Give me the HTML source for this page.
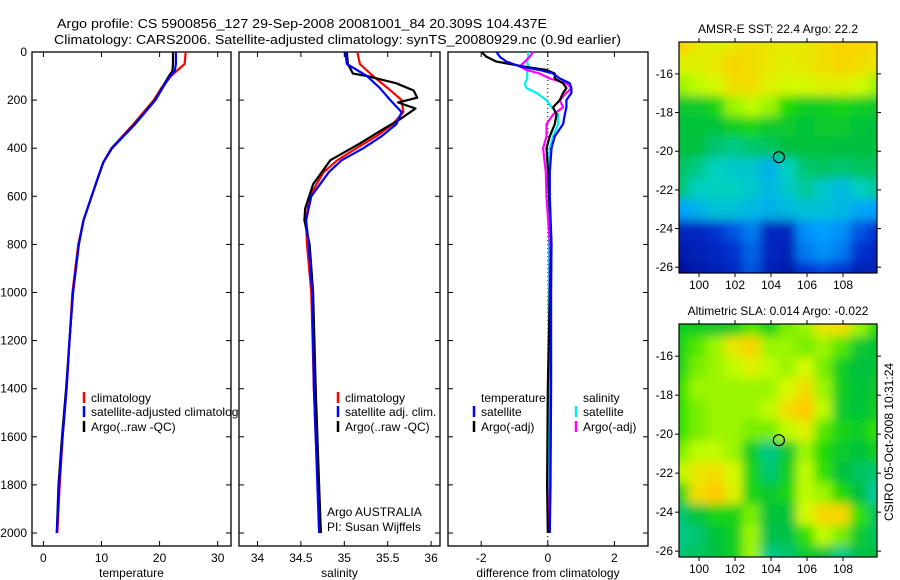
<!DOCTYPE html>
<html><head><meta charset="utf-8"><style>
body{margin:0;background:#fff}
svg{display:block;font-family:"Liberation Sans",sans-serif}
</style></head><body>
<svg id="chart" width="900" height="580" viewBox="0 0 900 580" xmlns="http://www.w3.org/2000/svg">
<defs>
<clipPath id="c1"><rect x="32" y="52" width="207" height="494"/></clipPath>
<clipPath id="cm1"><rect x="679" y="42" width="198" height="231"/></clipPath>
<clipPath id="cm2"><rect x="679" y="324" width="198" height="233"/></clipPath>
<filter id="bl" x="-10%" y="-10%" width="120%" height="120%"><feGaussianBlur stdDeviation="5"/></filter>
</defs>
<text x="57" y="28" font-size="13" textLength="490" lengthAdjust="spacingAndGlyphs">Argo profile: CS 5900856_127 29-Sep-2008 20081001_84 20.309S 104.437E</text>
<text x="54" y="44" font-size="13" textLength="567" lengthAdjust="spacingAndGlyphs">Climatology: CARS2006. Satellite-adjusted climatology: synTS_20080929.nc (0.9d earlier)</text>
<g id="g"></g>
</svg>
<script>
// ---------- data ----------
const tDepth=[0,50,80,100,150,200,300,400,460,500,600,700,800,1000,1200,1400,1600,1800,2000];
const tClim=[24.5,24.3,22.9,22.0,20.3,19.0,15.5,11.7,10.3,9.7,8.3,6.9,6.0,5.0,4.5,4.0,3.3,2.8,2.4];
const tSat=[22.8,22.8,22.6,21.8,20.5,19.3,15.8,11.8,10.3,9.7,8.3,6.9,6.1,5.1,4.5,4.0,3.3,2.7,2.3];
const tArgo=[22.3,22.3,22.2,21.6,20.4,19.2,15.7,11.8,10.3,9.7,8.3,6.9,6.1,5.1,4.5,3.9,3.2,2.6,2.3];
const sDepth=[0,50,100,150,200,250,300,350,400,450,500,600,700,800,1000,1400,1600,1800,2000];
const sClim=[35.15,35.18,35.33,35.5,35.66,35.68,35.56,35.37,35.14,34.92,34.76,34.6,34.56,34.57,34.62,34.65,34.67,34.7,34.72];
const sSat=[35.01,35.03,35.26,35.41,35.53,35.66,35.6,35.43,35.22,34.97,34.82,34.62,34.56,34.59,34.63,34.65,34.67,34.69,34.71];
const aDepth=[0,50,90,100,130,160,190,210,235,280,320,380,450,550,650,700,800,1000,1400,1600,1800,2000];
const sArgo=[35.03,35.04,35.1,35.26,35.6,35.8,35.84,35.62,35.82,35.64,35.45,35.18,34.84,34.64,34.55,34.54,34.6,34.64,34.67,34.69,34.71,34.73];
const dDepth=[0,20,40,60,75,90,110,130,150,170,200,230,260,300,350,400,500,600,800,1000,1400,1800,2000];
const dTSat=[-1.54,-1.44,-1.24,-0.84,-0.24,0.16,0.36,0.66,0.71,0.71,0.56,0.56,0.51,0.46,0.21,0.11,0.06,0.06,0.11,0.1,0.1,0.08,0.06];
const dTArgo=[-1.99,-1.84,-1.54,-0.74,-0.04,0.21,0.21,0.46,0.56,0.46,0.36,0.16,0.26,0.21,0.06,-0.04,0.01,0.04,0.11,0.06,0.0,-0.02,0.0];
const dSSat=[-0.59,-0.59,-0.62,-0.59,-0.62,-0.62,-0.62,-0.69,-0.64,-0.34,-0.04,0.11,0.31,0.31,0.16,0.06,0.01,0.04,0.04,0.03,0.03,0.03,0.03];
const dSArgo=[-0.44,-0.54,-0.69,-0.84,-0.64,-0.24,0.06,0.56,0.71,0.56,0.36,0.46,0.16,-0.04,-0.04,-0.14,-0.06,-0.04,0.06,0.06,0.08,0.06,0.04];
const depthTicks=[0,200,400,600,800,1000,1200,1400,1600,1800,2000];
const tTicks=[0,10,20,30];
const sTicks=[34,34.5,35,35.5,36];
const dTicks=[-2,0,2];
const lonTicks=[100,102,104,106,108];
const latTicks=[16,18,20,22,24,26];
const sstGrid=[
[0.85,0.8,0.78,0.8,0.82,0.8,0.8,0.8,0.82,0.84,0.84,0.82],
[0.78,0.78,0.8,0.84,0.82,0.8,0.78,0.8,0.82,0.84,0.82,0.8],
[0.72,0.74,0.76,0.82,0.82,0.78,0.76,0.76,0.78,0.78,0.76,0.72],
[0.58,0.58,0.62,0.72,0.74,0.72,0.64,0.6,0.6,0.62,0.6,0.58],
[0.56,0.56,0.56,0.6,0.62,0.58,0.58,0.56,0.58,0.58,0.56,0.55],
[0.55,0.55,0.5,0.48,0.5,0.52,0.55,0.56,0.56,0.55,0.55,0.55],
[0.52,0.48,0.42,0.4,0.4,0.34,0.42,0.5,0.52,0.5,0.52,0.52],
[0.5,0.42,0.42,0.42,0.4,0.36,0.4,0.46,0.4,0.36,0.42,0.46],
[0.3,0.34,0.38,0.38,0.36,0.34,0.36,0.38,0.38,0.36,0.32,0.3],
[0.12,0.12,0.15,0.2,0.25,0.12,0.12,0.28,0.3,0.28,0.2,0.15],
[0.08,0.1,0.12,0.15,0.22,0.12,0.1,0.25,0.28,0.25,0.15,0.12],
[0.05,0.08,0.1,0.12,0.2,0.1,0.08,0.15,0.18,0.15,0.1,0.1]];
const slaGrid=[
[0.6,0.6,0.58,0.6,0.68,0.62,0.7,0.72,0.8,0.82,0.72,0.65],
[0.62,0.68,0.72,0.8,0.84,0.72,0.72,0.7,0.72,0.68,0.58,0.56],
[0.62,0.7,0.72,0.74,0.78,0.74,0.72,0.76,0.7,0.6,0.55,0.56],
[0.66,0.72,0.72,0.72,0.72,0.72,0.76,0.82,0.72,0.6,0.56,0.58],
[0.66,0.7,0.72,0.72,0.72,0.74,0.82,0.86,0.74,0.58,0.56,0.6],
[0.66,0.7,0.72,0.72,0.7,0.7,0.74,0.78,0.68,0.62,0.6,0.66],
[0.7,0.74,0.74,0.72,0.6,0.48,0.58,0.72,0.64,0.58,0.56,0.6],
[0.74,0.8,0.82,0.76,0.62,0.5,0.6,0.74,0.66,0.56,0.52,0.5],
[0.62,0.82,0.86,0.78,0.62,0.58,0.62,0.74,0.72,0.64,0.55,0.45],
[0.5,0.56,0.62,0.62,0.7,0.56,0.56,0.76,0.84,0.84,0.66,0.52],
[0.48,0.5,0.56,0.6,0.72,0.54,0.54,0.66,0.74,0.7,0.58,0.52],
[0.5,0.52,0.55,0.6,0.72,0.48,0.5,0.58,0.56,0.48,0.54,0.55]];
const argoLon=104.437, argoLat=20.309;

// ---------- helpers ----------
const NS="http://www.w3.org/2000/svg";
const G=document.getElementById('g');
function mk(tag,at,parent){const e=document.createElementNS(NS,tag);for(const k in at)e.setAttribute(k,at[k]);(parent||G).appendChild(e);return e;}
function txt(x,y,s,anchor,size){const e=mk('text',{x:x,y:y,'font-size':size||12,'text-anchor':anchor||'start'});e.textContent=s;return e;}
const yD=d=>52+0.2405*d;
const panels=[
 {x0:32,x1:231,v:v=>43.4+5.81*v,ticks:tTicks,lab:'temperature',name:'temperature'},
 {x0:239,x1:440,v:v=>257.5+86.8*(v-34),ticks:sTicks,lab:'salinity',name:'salinity'},
 {x0:448,x1:648,v:v=>547.8+33.3*v,ticks:dTicks,lab:'difference from climatology',name:'difference'}];
const Y0=52,Y1=546;
panels.forEach((p,i)=>{
 const r=mk('rect',{x:p.x0,y:Y0,width:p.x1-p.x0,height:Y1-Y0,fill:'#fff',stroke:'#000','stroke-width':1.3});
 
 
 p.ticks.forEach(t=>{const x=p.v(t);
  mk('line',{x1:x,x2:x,y1:Y0,y2:Y0+5,stroke:'#000'});mk('line',{x1:x,x2:x,y1:Y1,y2:Y1-5,stroke:'#000'});
  const l=txt(x,562,String(t),'middle');
  
  });
 depthTicks.forEach(d=>{const y=yD(d);
  mk('line',{x1:p.x0,x2:p.x0+5,y1:y,y2:y,stroke:'#000'});mk('line',{x1:p.x1,x2:p.x1-5,y1:y,y2:y,stroke:'#000'});});
 const xl=txt((p.x0+p.x1)/2,577,p.lab,'middle');
 
 
});
depthTicks.forEach(d=>{const l=txt(27,yD(d)+4,String(d),'end');
 
 });
mk('line',{x1:panels[2].v(0),x2:panels[2].v(0),y1:Y0,y2:Y1,stroke:'#000','stroke-dasharray':'1,3'});
function line(p,ds,vs,col,name,w){
 const pts=ds.map((d,i)=>p.v(vs[i]).toFixed(1)+','+yD(d).toFixed(1)).join(' ');
 const e=mk('polyline',{points:pts,fill:'none',stroke:col,'stroke-width':w||2.2,'stroke-linejoin':'round'});
 
 
}
line(panels[0],tDepth,tClim,'#f00','temp-climatology-line');
line(panels[0],tDepth,tArgo,'#000','temp-argo-line');
line(panels[0],tDepth,tSat,'#00f','temp-satellite-line');
line(panels[1],sDepth,sClim,'#f00','sal-climatology-line');
line(panels[1],aDepth,sArgo,'#000','sal-argo-line');
line(panels[1],sDepth,sSat,'#00f','sal-satellite-line');
line(panels[2],dDepth,dSSat,'#0ee','diff-sal-satellite-line');
line(panels[2],dDepth,dSArgo,'#f0f','diff-sal-argo-line');
line(panels[2],dDepth,dTArgo,'#000','diff-temp-argo-line');
line(panels[2],dDepth,dTSat,'#00f','diff-temp-satellite-line');
function leg(x,y,col,s,name,clip){
 if(col) mk('line',{x1:x,x2:x,y1:y-10,y2:y+1,stroke:col,'stroke-width':2.5});
 const t=txt(x+7,y,s,'start');
 if(clip)t.setAttribute('clip-path','url(#c1)');
 
 
}
leg(84,402,'#f00','climatology','legend-climatology');
leg(84,416,'#00f','satellite-adjusted climatology','legend-satellite-adjusted',true);
leg(84,431,'#000','Argo(..raw -QC)','legend-argo-raw');
leg(338,402,'#f00','climatology','legend-sal-climatology');
leg(338,416,'#00f','satellite adj. clim.','legend-sal-satellite');
leg(338,431,'#000','Argo(..raw -QC)','legend-sal-argo');
leg(474,402,null,'temperature','legend-temperature-heading');
leg(474,416,'#00f','satellite','legend-diff-temp-satellite');
leg(474,431,'#000','Argo(-adj)','legend-diff-temp-argo');
leg(576,402,null,'salinity','legend-salinity-heading');
leg(576,416,'#0ee','satellite','legend-diff-sal-satellite');
leg(576,431,'#f0f','Argo(-adj)','legend-diff-sal-argo');
let a=txt(327,516,'Argo AUSTRALIA');
a=txt(327,531,'PI: Susan Wijffels');

// ---------- maps ----------
const stops=[[0,[0,0,128]],[0.15,[0,48,208]],[0.3,[0,160,255]],[0.42,[0,208,192]],[0.55,[0,192,64]],[0.65,[32,221,0]],[0.75,[208,255,0]],[0.85,[255,208,0]],[1,[255,96,0]]];
function cmap(v){for(let i=1;i<stops.length;i++){if(v<=stops[i][0]){const a=stops[i-1],b=stops[i],f=(v-a[0])/(b[0]-a[0]);
 return 'rgb('+a[1].map((c,k)=>Math.round(c+(b[1][k]-c)*f)).join(',')+')';}}return 'rgb(255,96,0)';}
const lonX=l=>699+18*(l-100);
function drawMap(grid,top,bot,clip,title,name){
 const latY=l=>top+(l-14.35)*(bot-top)/(26.3-14.35);
 const g=mk('g',{'clip-path':'url(#'+clip+')'});
 
 
 const g2=mk('g',{filter:'url(#bl)'},g);
 const nr=grid.length,nc=grid[0].length,lon0=98.4,lon1=110.4,lat0=13.9,lat1=26.8;
 grid.forEach((row,r)=>row.forEach((v,c)=>{
  const xa=lonX(lon0+(lon1-lon0)*c/nc),xb=lonX(lon0+(lon1-lon0)*(c+1)/nc);
  const ya=latY(lat0+(lat1-lat0)*r/nr),yb=latY(lat0+(lat1-lat0)*(r+1)/nr);
  const cell=mk('rect',{x:xa-(c==0?15:0),y:ya-(r==0?15:0),width:xb-xa+0.5+(c==0||c==nc-1?15:0),height:yb-ya+0.5+(r==0||r==nr-1?15:0),fill:cmap(v)},g2);
  
  
 }));
 mk('rect',{x:679,y:top,width:198,height:bot-top,fill:'none',stroke:'#000','stroke-width':1.2});
 lonTicks.forEach(l=>{const x=lonX(l);mk('line',{x1:x,x2:x,y1:top,y2:top-4,stroke:'#000'});mk('line',{x1:x,x2:x,y1:bot,y2:bot+4,stroke:'#000'});
  const t=txt(x,bot+16,String(l),'middle');});
 latTicks.forEach(l=>{const y=latY(l);mk('line',{x1:877,x2:881,y1:y,y2:y,stroke:'#000'});mk('line',{x1:679,x2:675,y1:y,y2:y,stroke:'#000'});
  const t=txt(673,y+4,'-'+l,'end');});
 const c=mk('circle',{cx:lonX(argoLon),cy:latY(argoLat),r:5.5,fill:'none',stroke:'#000','stroke-width':1.2});
 
 
 const t=txt(778,top-9,title,'middle');
 
 
}
drawMap(sstGrid,42,273,'cm1','AMSR-E SST: 22.4 Argo: 22.2','sst');
drawMap(slaGrid,324,557,'cm2','Altimetric SLA: 0.014 Argo: -0.022','sla');
const st=txt(0,0,'CSIRO 05-Oct-2008 10:31:24','middle');
st.setAttribute('transform','translate(893,442) rotate(-90)');


</script>
</body></html>
